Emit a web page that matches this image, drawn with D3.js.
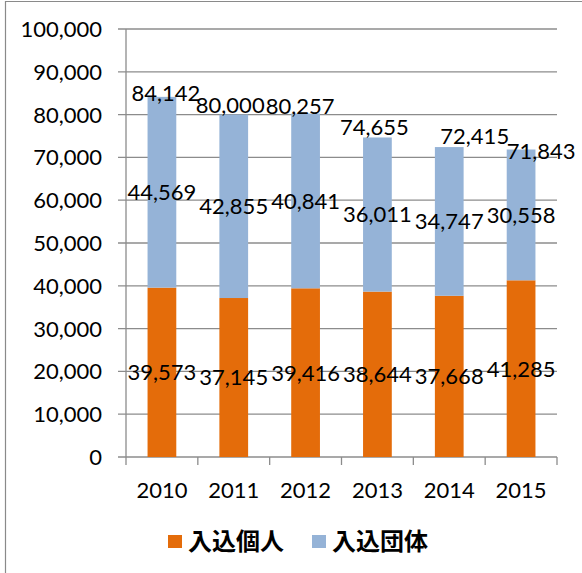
<!DOCTYPE html>
<html>
<head>
<meta charset="utf-8">
<script src="https://cdn.jsdelivr.net/npm/d3@7"></script>
<style>
  html, body { margin: 0; padding: 0; background: #fff; }
  svg { display: block; }
</style>
</head>
<body>
<svg id="chart" width="582" height="573"></svg>
<script>
// ---- data ----
const years = ['2010', '2011', '2012', '2013', '2014', '2015'];
const individual = [39573, 37145, 39416, 38644, 37668, 41285]; // 入込個人
const group = [44569, 42855, 40841, 36011, 34747, 30558];      // 入込団体
const totals = [84142, 80000, 80257, 74655, 72415, 71843];
const yTicks = [0, 10000, 20000, 30000, 40000, 50000, 60000, 70000, 80000, 90000, 100000];
const seriesNames = ['入込個人', '入込団体'];

// ---- layout / style ----
const colors = ['#E46C0A', '#95B3D7'];
const gridColor = '#8c8c8c';
const numFont = 'Lato, "Liberation Sans", sans-serif';
const numSize = 22;
// label nudges for total labels (dx, dy) relative to bar top centre
const totalNudge = [[4, -4], [-3.5, -10], [-5.5, -7], [-3, -10], [25.5, -10.5], [20, 1.5]];

const svg = d3.select('#chart');
const pLeft = 126, pRight = 557, pTop = 29, pBottom = 457;

const x = d3.scaleBand().domain(years).range([pLeft, pRight]).paddingInner(0.6).paddingOuter(0.3);
const y = d3.scaleLinear().domain([0, 100000]).range([pBottom, pTop]);

// border
svg.append('path').attr('d', 'M5.5,573 V1.5 H582')
  .attr('fill', 'none').attr('stroke', '#8a8a8a').attr('stroke-width', 1.2);

// gridlines
svg.append('g').selectAll('line').data(yTicks).join('line')
  .attr('x1', pLeft - 8).attr('x2', pRight)
  .attr('y1', d => y(d)).attr('y2', d => y(d))
  .attr('stroke', gridColor).attr('stroke-width', 1.3);

// y axis line
svg.append('line').attr('x1', pLeft).attr('x2', pLeft).attr('y1', pTop).attr('y2', pBottom)
  .attr('stroke', gridColor).attr('stroke-width', 1.3);

// y tick labels
const fmt = d3.format(',');
svg.append('g').selectAll('text').data(yTicks).join('text')
  .attr('x', pLeft - 24).attr('y', d => y(d)).attr('dy', '0.36em')
  .attr('text-anchor', 'end')
  .attr('font-family', numFont).attr('font-size', numSize).attr('fill', '#000')
  .text(d => fmt(d));

// x tick marks at band boundaries
const boundaries = years.map(d => x(d) - x.step() * x.paddingInner() / 2);
boundaries.push(pRight);
svg.append('g').selectAll('line').data(boundaries).join('line')
  .attr('x1', d => d).attr('x2', d => d).attr('y1', pBottom).attr('y2', pBottom + 8)
  .attr('stroke', gridColor).attr('stroke-width', 1.3);

// x labels
svg.append('g').selectAll('text').data(years).join('text')
  .attr('x', d => x(d) + x.bandwidth() / 2).attr('y', 497.5)
  .attr('text-anchor', 'middle')
  .attr('font-family', numFont).attr('font-size', numSize).attr('fill', '#000')
  .text(d => d);

// bars
const rows = years.map((yr, i) => ({ year: yr, a: individual[i], b: group[i], t: totals[i], i }));
const gBars = svg.append('g');
gBars.selectAll('rect.a').data(rows).join('rect').attr('class', 'a')
  .attr('x', d => x(d.year)).attr('width', x.bandwidth())
  .attr('y', d => y(d.a)).attr('height', d => y(0) - y(d.a))
  .attr('fill', colors[0]);
gBars.selectAll('rect.b').data(rows).join('rect').attr('class', 'b')
  .attr('x', d => x(d.year)).attr('width', x.bandwidth())
  .attr('y', d => y(d.a + d.b)).attr('height', d => y(d.a) - y(d.a + d.b))
  .attr('fill', colors[1]);

// segment labels
const gl = svg.append('g').attr('font-family', numFont).attr('font-size', numSize)
  .attr('fill', '#000').attr('text-anchor', 'middle');
gl.selectAll('text.la').data(rows).join('text').attr('class', 'la')
  .attr('x', d => x(d.year) + x.bandwidth() / 2).attr('y', d => y(d.a / 2)).attr('dy', '0.36em')
  .text(d => fmt(d.a));
gl.selectAll('text.lb').data(rows).join('text').attr('class', 'lb')
  .attr('x', d => x(d.year) + x.bandwidth() / 2).attr('y', d => y(d.a + d.b / 2)).attr('dy', '0.36em')
  .text(d => fmt(d.b));
gl.selectAll('text.lt').data(rows).join('text').attr('class', 'lt')
  .attr('x', d => x(d.year) + x.bandwidth() / 2 + totalNudge[d.i][0])
  .attr('y', d => y(d.t) + totalNudge[d.i][1]).attr('dy', '0.36em')
  .text(d => fmt(d.t));

// legend
const legendX = [168, 312];
const lg = svg.append('g');
seriesNames.forEach((name, i) => {
  lg.append('rect').attr('x', legendX[i]).attr('y', 535).attr('width', 14).attr('height', 13)
    .attr('fill', colors[i]);
  lg.append('text').attr('x', legendX[i] + 20).attr('y', 541.5).attr('dy', '0.36em')
    .attr('font-family', '"Noto Sans CJK JP", sans-serif').attr('font-size', 24)
    .attr('font-weight', 'bold').attr('fill', '#000')
    .text(name);
});
</script>
</body>
</html>
